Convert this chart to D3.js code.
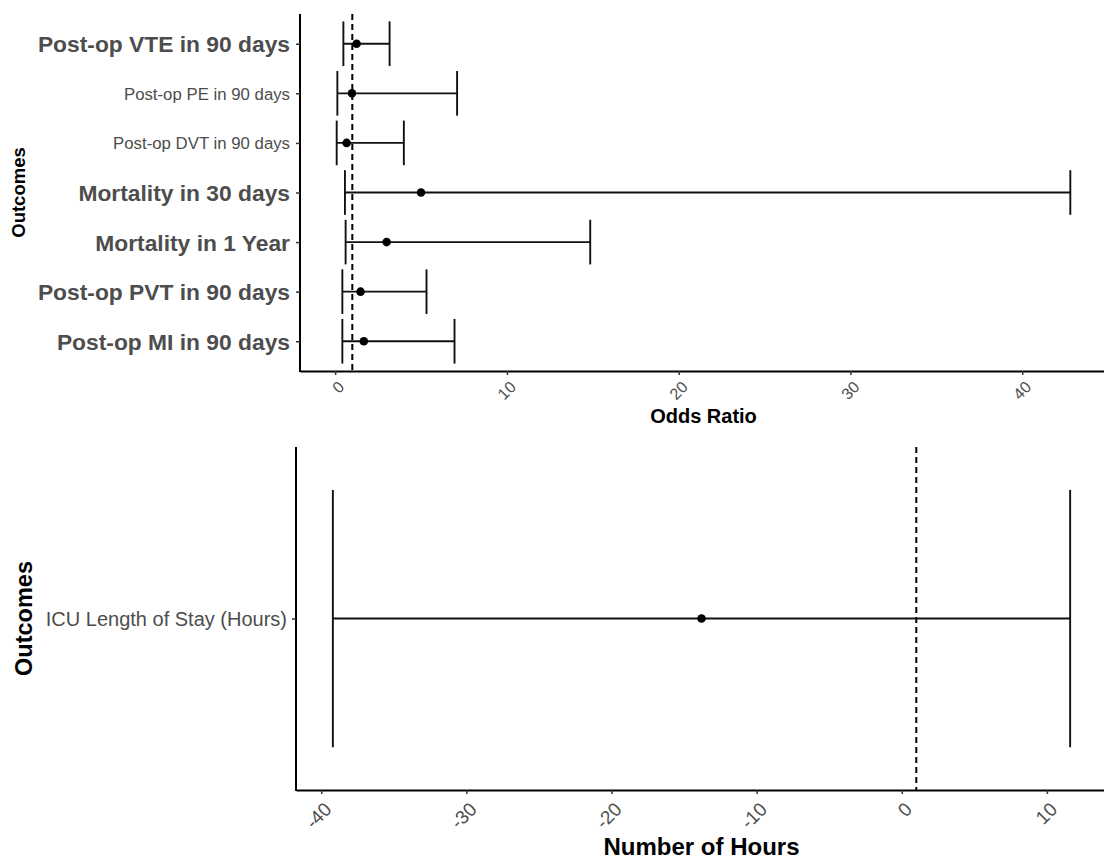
<!DOCTYPE html>
<html>
<head>
<meta charset="utf-8">
<script src="https://cdn.jsdelivr.net/npm/d3@7"></script>
<style>
  body { margin: 0; background: #fff; }
  svg { display: block; font-family: "Liberation Sans", Arial, sans-serif; }
</style>
</head>
<body>
<div id="chart"></div>
<script>
// top panel: odds ratios
var outcomes = ["Post-op VTE in 90 days", "Post-op PE in 90 days", "Post-op DVT in 90 days",
  "Mortality in 30 days", "Mortality in 1 Year", "Post-op PVT in 90 days", "Post-op MI in 90 days"];
var oddsRatio = [1.25, 0.98, 0.67, 5.0, 3.0, 1.48, 1.67];
var orLow = [0.48, 0.13, 0.09, 0.57, 0.61, 0.42, 0.42];
var orHigh = [3.17, 7.1, 4.0, 42.8, 14.85, 5.32, 6.95];
var smallLabels = ["Post-op PE in 90 days", "Post-op DVT in 90 days"];
var orTicks = [0, 10, 20, 30, 40];

// bottom panel: ICU hours
var icuOutcome = ["ICU Length of Stay (Hours)"];
var icuEstimate = [-13.8];
var icuLow = [-39.2];
var icuHigh = [11.6];
var hourTicks = [-40, -30, -20, -10, 0, 10];

var refLine = 1;

var width = 1104;
var height = 862;

var svg = d3.select("#chart")
  .append("svg")
  .attr("width", width)
  .attr("height", height);

// ggplot style 5% expansion
function expand(lo, hi) {
  var pad = (hi - lo) * 0.05;
  return [lo - pad, hi + pad];
}

function drawPanel(opts) {
  var g = svg.append("g");

  var x = d3.scaleLinear()
    .domain(expand(d3.min(opts.low), d3.max(opts.high)))
    .range([opts.left, 1107]);

  var y = d3.scalePoint()
    .domain(opts.cats)
    .range([opts.top, opts.bottom])
    .padding(0.6);

  var capHalf = y.step() * 0.45;

  // reference line
  g.append("line")
    .attr("x1", x(refLine)).attr("x2", x(refLine))
    .attr("y1", opts.top).attr("y2", opts.bottom)
    .attr("stroke", "#000")
    .attr("stroke-width", 2)
    .attr("stroke-dasharray", "6,4");

  var rows = opts.cats.map(function (c, i) {
    return { cat: c, est: opts.est[i], lo: opts.low[i], hi: opts.high[i] };
  });

  var bars = g.selectAll(".err")
    .data(rows)
    .enter()
    .append("g");

  bars.append("line")
    .attr("x1", (d) => x(d.lo)).attr("x2", (d) => x(d.hi))
    .attr("y1", (d) => y(d.cat)).attr("y2", (d) => y(d.cat))
    .attr("stroke", "#111").attr("stroke-width", 1.9);

  bars.append("line")
    .attr("x1", (d) => x(d.lo)).attr("x2", (d) => x(d.lo))
    .attr("y1", (d) => y(d.cat) - capHalf).attr("y2", (d) => y(d.cat) + capHalf)
    .attr("stroke", "#111").attr("stroke-width", 1.9);

  bars.append("line")
    .attr("x1", (d) => x(d.hi)).attr("x2", (d) => x(d.hi))
    .attr("y1", (d) => y(d.cat) - capHalf).attr("y2", (d) => y(d.cat) + capHalf)
    .attr("stroke", "#111").attr("stroke-width", 1.9);

  bars.append("circle")
    .attr("cx", (d) => x(d.est))
    .attr("cy", (d) => y(d.cat))
    .attr("r", 4.3)
    .attr("fill", "#000");

  // x axis
  var xAxis = g.append("g")
    .attr("transform", "translate(0," + opts.bottom + ")")
    .call(d3.axisBottom(x).tickValues(opts.ticks).tickSize(4).tickSizeOuter(0)
      .tickFormat((d) => String(d)));
  xAxis.attr("font-size", null).attr("font-family", null);
  xAxis.select(".domain").attr("stroke", "#000").attr("stroke-width", 2);
  xAxis.selectAll(".tick line").attr("stroke", "#333").attr("stroke-width", 1.5);
  xAxis.selectAll(".tick text")
    .attr("y", 0).attr("dy", "0.71em")
    .attr("transform", "translate(1.5," + opts.tickDrop + ") rotate(-45)")
    .attr("text-anchor", "end")
    .attr("fill", "#4d4d4d")
    .style("font-size", opts.tickFont + "px");

  // y axis
  var yAxis = g.append("g")
    .attr("transform", "translate(" + opts.left + ",0)")
    .call(d3.axisLeft(y).tickSize(4).tickSizeOuter(0));
  yAxis.attr("font-size", null).attr("font-family", null);
  yAxis.select(".domain")
    .attr("d", "M0," + (opts.top) + "V" + (opts.bottom + 1))
    .attr("stroke", "#000").attr("stroke-width", 2);
  yAxis.selectAll(".tick line").attr("stroke", "#333").attr("stroke-width", 1.5);
  yAxis.selectAll(".tick text")
    .attr("x", opts.labelGap)
    .attr("dy", "0.36em")
    .attr("fill", "#4d4d4d")
    .attr("font-weight", opts.labelWeight)
    .style("font-size", (d) => opts.labelSize(d) + "px");

  // titles
  g.append("text")
    .attr("x", (opts.left + 1107) / 2)
    .attr("y", opts.xTitleY)
    .attr("text-anchor", "middle")
    .attr("font-weight", "bold")
    .style("font-size", opts.xTitleSize + "px")
    .text(opts.xTitle);

  g.append("text")
    .attr("transform", "translate(" + opts.yTitleX + "," + ((opts.top + opts.bottom) / 2) + ") rotate(-90)")
    .attr("text-anchor", "middle")
    .attr("font-weight", "bold")
    .style("font-size", opts.yTitleSize + "px")
    .text("Outcomes");
}

drawPanel({
  cats: outcomes, est: oddsRatio, low: orLow, high: orHigh, ticks: orTicks,
  left: 300, top: 14, bottom: 371,
  tickFont: 16, tickDrop: 9,
  labelGap: -10,
  labelWeight: (d) => (smallLabels.includes(d) ? "normal" : "bold"),
  labelSize: (d) => (smallLabels.includes(d) ? 16.8 : 22.8),
  xTitle: "Odds Ratio", xTitleY: 423, xTitleSize: 20,
  yTitleX: 25, yTitleSize: 18.5
});

drawPanel({
  cats: icuOutcome, est: icuEstimate, low: icuLow, high: icuHigh, ticks: hourTicks,
  left: 296, top: 447, bottom: 790,
  tickFont: 19, tickDrop: 11,
  labelGap: -9,
  labelWeight: "normal",
  labelSize: () => 20,
  xTitle: "Number of Hours", xTitleY: 855, xTitleSize: 24,
  yTitleX: 32, yTitleSize: 23.5
});
</script>
</body>
</html>
